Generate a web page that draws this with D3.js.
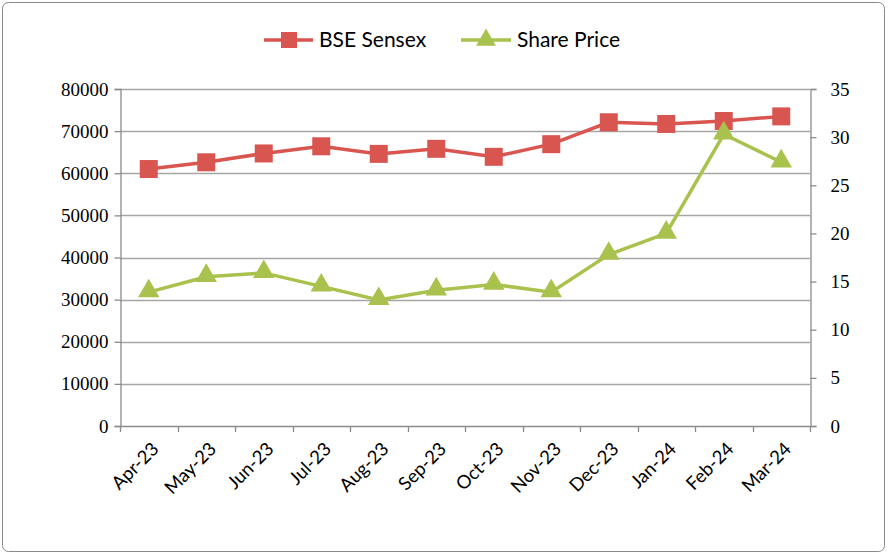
<!DOCTYPE html>
<html>
<head>
<meta charset="utf-8">
<script src="https://cdn.jsdelivr.net/npm/d3@7"></script>
<style>
  body { margin: 0; background: #fff; }
  svg { display: block; }
</style>
</head>
<body>
<svg id="chart" width="888" height="555"></svg>
<script>
// data
var months = ["Apr-23","May-23","Jun-23","Jul-23","Aug-23","Sep-23","Oct-23","Nov-23","Dec-23","Jan-24","Feb-24","Mar-24"];
var sensex = [61000, 62600, 64700, 66400, 64600, 65800, 63900, 66900, 72100, 71700, 72400, 73500];
var sharePrice = [13.9, 15.5, 15.9, 14.5, 13.1, 14.1, 14.7, 13.9, 17.8, 20.0, 30.3, 27.4];
var leftTicks = [0, 10000, 20000, 30000, 40000, 50000, 60000, 70000, 80000];
var rightTicks = [0, 5, 10, 15, 20, 25, 30, 35];

var red = "#D9554F", green = "#A9C24E", grid = "#A6A6A6", axisCol = "#8C8C8C";
var svg = d3.select("#chart");

/*************************** frame ***************************/
svg.append("rect")
  .attr("x", 2.5).attr("y", 2.5).attr("width", 882).attr("height", 549)
  .attr("rx", 6).attr("fill", "#fff").attr("stroke", "#8A8A8A").attr("stroke-width", 1);

var plot = { left: 120, right: 810, top: 89, bottom: 426 };

var x = d3.scaleBand().domain(months).range([plot.left, plot.right]);
var yL = d3.scaleLinear().domain([0, 80000]).range([plot.bottom, plot.top]);
var yR = d3.scaleLinear().domain([0, 35]).range([plot.bottom, plot.top]);

/*************************** grid ***************************/
svg.append("g").selectAll("line").data(leftTicks.slice(1)).enter().append("line")
  .attr("x1", plot.left).attr("x2", plot.right)
  .attr("y1", function(d){ return Math.round(yL(d)) + 0.5; })
  .attr("y2", function(d){ return Math.round(yL(d)) + 0.5; })
  .attr("stroke", grid).attr("stroke-width", 1.3);

/*************************** axes ***************************/
var serif = "'Liberation Serif', 'Times New Roman', serif";
var sans = "Lato, 'Open Sans', sans-serif";

var axL = svg.append("g").attr("transform", "translate(" + (plot.left + 0.5) + ",0)")
  .call(d3.axisLeft(yL).tickValues(leftTicks).tickSize(6).tickPadding(6).tickFormat(d3.format("d")));
var axR = svg.append("g").attr("transform", "translate(" + (plot.right + 0.5) + ",0)")
  .call(d3.axisRight(yR).tickValues(rightTicks).tickSize(6).tickPadding(14).tickFormat(d3.format("d")));

[axL, axR].forEach(function(ax){
  ax.select(".domain").attr("stroke", axisCol).attr("stroke-width", 1.3);
  ax.selectAll(".tick line").attr("stroke", axisCol).attr("stroke-width", 1.3);
  ax.selectAll(".tick text").attr("fill", "#000").style("font-family", serif).style("font-size", "19px");
});

// x axis line + ticks between categories
var xa = svg.append("g");
xa.append("line").attr("x1", plot.left).attr("x2", plot.right)
  .attr("y1", plot.bottom + 0.5).attr("y2", plot.bottom + 0.5)
  .attr("stroke", axisCol).attr("stroke-width", 1.3);
var bounds = months.map(function(m){ return x(m); }).concat([plot.right]);
xa.selectAll("line.tk").data(bounds).enter().append("line").attr("class", "tk")
  .attr("x1", function(d){ return Math.round(d) + 0.5; }).attr("x2", function(d){ return Math.round(d) + 0.5; })
  .attr("y1", plot.bottom).attr("y2", plot.bottom + 6)
  .attr("stroke", axisCol).attr("stroke-width", 1.3);
xa.selectAll("text").data(months).enter().append("text")
  .attr("transform", function(d){ return "translate(" + (x(d) + x.bandwidth()/2 + 2) + "," + (plot.bottom + 15) + ") rotate(-45)"; })
  .attr("text-anchor", "end").attr("dy", "0.7em")
  .style("font-family", sans).style("font-size", "18.5px").attr("fill", "#000")
  .text(function(d){ return d; });

/*************************** series ***************************/
var cx = function(i){ return x(months[i]) + x.bandwidth()/2; };

var lineL = d3.line().x(function(d, i){ return cx(i); }).y(function(d){ return yL(d); });
var lineR = d3.line().x(function(d, i){ return cx(i); }).y(function(d){ return yR(d); });

svg.append("path").datum(sensex).attr("d", lineL)
  .attr("fill", "none").attr("stroke", red).attr("stroke-width", 3.5);
svg.append("g").selectAll("rect").data(sensex).enter().append("rect")
  .attr("x", function(d, i){ return cx(i) - 9; }).attr("y", function(d){ return yL(d) - 9; })
  .attr("width", 18).attr("height", 18).attr("fill", red);

svg.append("path").datum(sharePrice).attr("d", lineR)
  .attr("fill", "none").attr("stroke", green).attr("stroke-width", 3.5);
var tri = d3.symbol().type(d3.symbolTriangle).size(200);
svg.append("g").selectAll("path").data(sharePrice).enter().append("path")
  .attr("d", tri)
  .attr("transform", function(d, i){ return "translate(" + cx(i) + "," + (yR(d) - 1) + ")"; })
  .attr("fill", green);

/*************************** legend ***************************/
var lg = svg.append("g").attr("transform", "translate(0,40)");
lg.append("line").attr("x1", 264).attr("x2", 313).attr("stroke", red).attr("stroke-width", 3.5);
lg.append("rect").attr("x", 281).attr("y", -8).attr("width", 16).attr("height", 16).attr("fill", red);
lg.append("text").attr("x", 319).attr("dy", "0.35em").text("BSE Sensex")
  .style("font-family", sans).style("font-size", "21px").attr("fill", "#000");
lg.append("line").attr("x1", 461).attr("x2", 511).attr("stroke", green).attr("stroke-width", 3.5);
lg.append("path").attr("d", d3.symbol().type(d3.symbolTriangle).size(170)).attr("transform", "translate(486,0)").attr("fill", green);
lg.append("text").attr("x", 517).attr("dy", "0.35em").text("Share Price")
  .style("font-family", sans).style("font-size", "21px").attr("fill", "#000");
</script>
</body>
</html>
